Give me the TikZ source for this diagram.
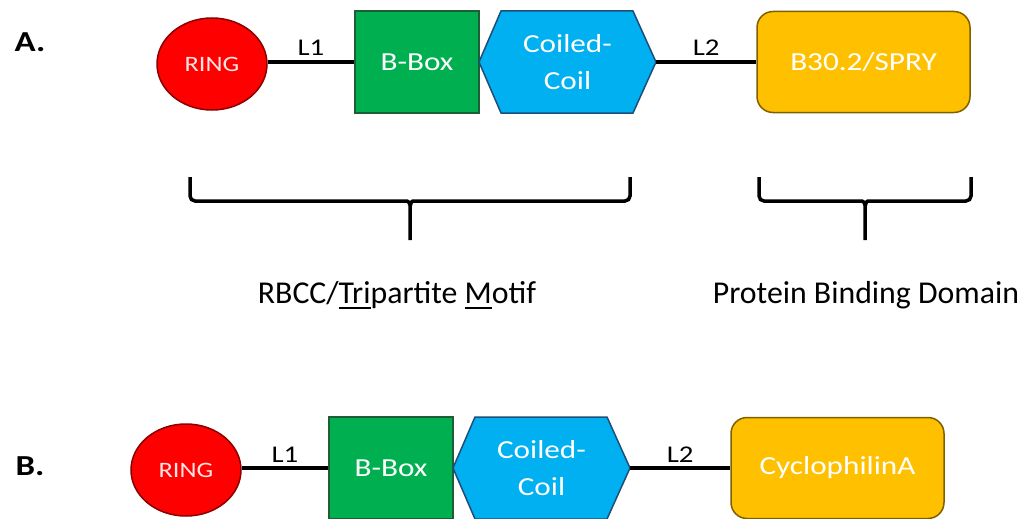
\documentclass[tikz,border=0pt]{standalone}
\usepackage{fontspec}
\setmainfont{Carlito}
\newfontfamily\stretchfont{Carlito}[FakeStretch=1.2]
\usetikzlibrary{shapes.geometric}

\definecolor{ringred}{HTML}{FF0000}
\definecolor{ringedge}{HTML}{8B0000}
\definecolor{boxgreen}{HTML}{00B050}
\definecolor{boxedge}{HTML}{1E5E36}
\definecolor{coilblue}{HTML}{00B0F0}
\definecolor{coiledge}{HTML}{1F4E79}
\definecolor{domgold}{HTML}{FFC000}
\definecolor{domedge}{HTML}{7F6000}

% thick underline used in the motif caption
\newsavebox\undlbox
\newcommand\undl[1]{\sbox\undlbox{#1}\rlap{\rule[-6pt]{\wd\undlbox}{2.4pt}}\usebox\undlbox}

\begin{document}
\begin{tikzpicture}[x=1pt,y=-1pt,
  ringdom/.style={ellipse, fill=ringred, draw=ringedge, line width=1.5pt,
    minimum width=110pt, minimum height=92pt, inner sep=0pt,
    text=white!90!red, font=\stretchfont\fontsize{22}{26}\selectfont},
  bboxdom/.style={rectangle, fill=boxgreen, draw=boxedge, line width=1.5pt,
    minimum width=124pt, minimum height=102pt, inner sep=0pt,
    text=white, font=\stretchfont\fontsize{26}{30}\selectfont},
  coilshape/.style={fill=coilblue, draw=coiledge, line width=1.5pt, line join=miter},
  coiltext/.style={align=center, text=white, inner sep=0pt,
    font=\stretchfont\fontsize{26}{37}\selectfont},
  pbd/.style={rectangle, rounded corners=16pt, fill=domgold, draw=domedge,
    line width=1.5pt, minimum width=213pt, minimum height=101pt, inner sep=0pt,
    text=white, font=\stretchfont\fontsize{26}{30}\selectfont},
  linker/.style={line width=4pt},
  linklabel/.style={anchor=base, inner sep=0pt, yshift=6pt,
    font=\stretchfont\fontsize{24}{28}\selectfont},
  brace/.style={line width=3.5pt, rounded corners=5pt},
  caption/.style={anchor=base, inner sep=0pt, font=\fontsize{31.8}{36}\selectfont},
  panel/.style={inner sep=0pt, font=\stretchfont\bfseries\fontsize{29}{32}\selectfont}
]
\useasboundingbox (0,0) rectangle (1026,519);

% ---------- A: TRIM5alpha domain organisation ----------
\node[panel] (labA) at (30,42) {A.};
\node[ringdom] (ringA) at (212,64) {RING};
\node[bboxdom] (bboxA) at (417,62) {B-Box};
\coordinate (ccAw) at (479,62);
\coordinate (ccAe) at (656,62);
\draw[coilshape] (ccAw) -- (501,11) -- (633,11) -- (ccAe) -- (633,113) -- (501,113) -- cycle;
\node[coiltext] (ccA) at (567.5,62) {Coiled-\\Coil};
\node[pbd] (pbdA) at (863.5,62) {B30.2/SPRY};

\draw[linker] (bboxA.west) -- (bboxA.west -| ringA.east) node[midway, linklabel] (l1A) {L1};
\draw[linker] (ccAe) -- (pbdA.west) node[midway, linklabel] (l2A) {L2};

% braces grouping the domains
\draw[brace] (410,240) -- (410,210) .. controls (410,203) and (408,201) .. (402,201)
  -- (190,201) -- (190,177)
  (410,210) .. controls (410,203) and (412,201) .. (418,201) -- (630,201) -- (630,177);
\draw[brace] (865,240) -- (865,210) .. controls (865,203) and (863,201) .. (857,201)
  -- (759,201) -- (759,177)
  (865,210) .. controls (865,203) and (867,201) .. (873,201) -- (971,201) -- (971,177);

\node[caption] (capRBCC) at (397,303) {RBCC/\undl{Tri}partite \undl{M}otif};
\node[caption] (capPBD) at (866,303) {Protein Binding Domain};

% ---------- B: TRIMCyp domain organisation ----------
\node[panel] (labB) at (30,466) {B.};
\node[ringdom] (ringB) at (186,470) {RING};
\node[bboxdom] (bboxB) at (391,468) {B-Box};
\coordinate (ccBw) at (453,468);
\coordinate (ccBe) at (630,468);
\draw[coilshape] (ccBw) -- (475,417) -- (607,417) -- (ccBe) -- (607,519) -- (475,519) -- cycle;
\node[coiltext] (ccB) at (541.5,468) {Coiled-\\Coil};
\node[pbd] (pbdB) at (837.5,468) {CyclophilinA};

\draw[linker] (bboxB.west) -- (bboxB.west -| ringB.east) node[midway, linklabel] (l1B) {L1};
\draw[linker] (ccBe) -- (pbdB.west) node[midway, linklabel] (l2B) {L2};
\end{tikzpicture}
\end{document}
